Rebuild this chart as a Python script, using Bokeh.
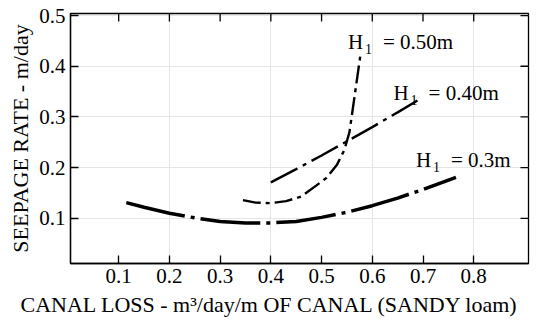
from bokeh.plotting import figure
from bokeh.models import Range1d, LinearAxis, Label, FixedTicker, Title
from bokeh.embed import file_html
from bokeh.resources import INLINE

# ---- data ----
h03_x = [0.115, 0.15, 0.20, 0.25, 0.30, 0.35, 0.40, 0.45, 0.50, 0.55, 0.60, 0.65, 0.70, 0.765]
h03_y = [0.131, 0.122, 0.110, 0.101, 0.094, 0.091, 0.091, 0.094, 0.102, 0.112, 0.125, 0.140, 0.157, 0.181]

h04_x = [0.40, 0.45, 0.50, 0.55, 0.60, 0.65, 0.69]
h04_y = [0.171, 0.197, 0.224, 0.252, 0.280, 0.309, 0.333]

h05_x = [0.345, 0.37, 0.40, 0.43, 0.46, 0.49, 0.51, 0.53, 0.545, 0.555, 0.565, 0.577]
h05_y = [0.136, 0.131, 0.130, 0.134, 0.143, 0.165, 0.180, 0.205, 0.235, 0.270, 0.340, 0.425]

x_ticks = [0.1, 0.2, 0.3, 0.4, 0.5, 0.6, 0.7, 0.8]
y_ticks = [0.1, 0.2, 0.3, 0.4, 0.5]

curve_names = ["0.50m", "0.40m", "0.3m"]

x_title = "CANAL LOSS - m\u00b3/day/m OF CANAL (SANDY loam)"
y_title = "SEEPAGE RATE - m/day"

FONT = "Liberation Serif"
TFONT = "'Liberation Serif', 'Times New Roman', serif"

X_LO, X_HI = 0.005, 0.908
Y_LO, Y_HI = 0.011, 0.504

p = figure(width=540, height=326, output_backend="svg", toolbar_location=None,
           x_range=Range1d(X_LO, X_HI), y_range=Range1d(Y_LO, Y_HI),
           x_axis_location=None, y_axis_location=None,
           min_border_left=70, min_border_right=12, min_border_top=13, min_border_bottom=63)
p.outline_line_color = "black"
p.outline_line_width = 1.3
p.background_fill_color = "white"
p.border_fill_color = "white"


def make_axis(ticks):
    ax = LinearAxis(ticker=FixedTicker(ticks=ticks, minor_ticks=[]))
    ax.major_tick_in = 8
    ax.major_tick_out = 0
    ax.minor_tick_in = 0
    ax.minor_tick_out = 0
    ax.axis_line_color = "black"
    ax.axis_line_width = 1.3
    ax.major_tick_line_width = 1.3
    ax.major_label_text_font = FONT
    ax.major_label_text_font_size = "21px"
    ax.major_label_text_color = "black"
    ax.major_label_standoff = 5
    return ax


p.add_layout(make_axis(x_ticks), "below")
p.add_layout(make_axis(y_ticks), "left")

# inward ticks on the top and right frame edges (half of each dash is clipped by the frame)
p.scatter(x_ticks, [Y_HI] * len(x_ticks), marker="dash", size=16, angle=1.5708,
          line_color="black", line_width=1.3)
p.scatter([X_HI] * len(y_ticks), y_ticks, marker="dash", size=16,
          line_color="black", line_width=1.3)

p.line(h03_x, h03_y, line_color="black", line_width=3.5, line_dash="60 6 4 6")
p.line(h04_x, h04_y, line_color="black", line_width=2.4, line_dash="30 6 4 6")
p.line(h05_x, h05_y, line_color="black", line_width=2.4, line_dash="18 5 4 5")

# curve labels: anchor of the "H" (data coords), then subscript and remainder offsets
label_anchor = [(0.552, 0.447), (0.642, 0.348), (0.686, 0.216)]
for name, (lx, ly) in zip(curve_names, label_anchor):
    p.add_layout(Label(x=lx, y=ly, text="H", text_font=FONT, text_font_size="21px",
                       text_baseline="alphabetic", text_align="left", text_color="black"))
    p.add_layout(Label(x=lx, y=ly, x_offset=17, y_offset=-7, text="1", text_font=FONT,
                       text_font_size="14px", text_baseline="alphabetic", text_align="left",
                       text_color="black"))
    p.add_layout(Label(x=lx, y=ly, x_offset=35, text="= " + name, text_font=FONT,
                       text_font_size="21px", text_baseline="alphabetic", text_align="left",
                       text_color="black"))

# axis titles
p.add_layout(Title(text=x_title, align="left", offset=-50, text_font=TFONT,
                   text_font_size="22px", text_font_style="normal", text_color="black",
                   standoff=9), "below")
p.add_layout(Title(text=y_title, align="center", offset=12, text_font=TFONT,
                   text_font_size="22px", text_font_style="normal", text_color="black",
                   standoff=8), "left")

open("out.html", "w").write(file_html(p, INLINE))
